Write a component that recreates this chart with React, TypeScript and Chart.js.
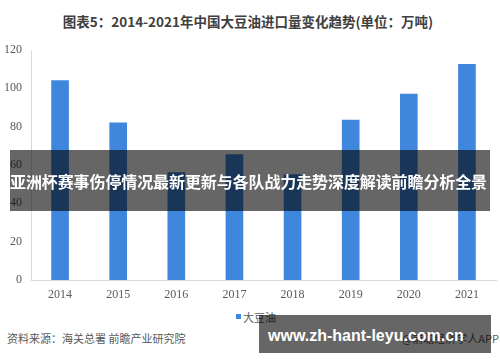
import React, { useEffect, useRef } from "react";
import { Chart, registerables } from "chart.js";

Chart.register(...registerables);

const categories: string[] = ["2014", "2015", "2016", "2017", "2018", "2019", "2020", "2021"];
const soybeanOil: number[] = [104, 82, 56, 65.5, 55, 83.5, 97, 112.5];
const seriesName = "大豆油";
const yTicks: number[] = [0, 20, 40, 60, 80, 100, 120];
const titleText = "图表5：2014-2021年中国大豆油进口量变化趋势(单位：万吨)";
const sourceText = "资料来源：海关总署 前瞻产业研究院";
const brandText = "@前瞻经济学人APP";
const bannerText = "亚洲杯赛事伤停情况最新更新与各队战力走势深度解读前瞻分析全景";
const urlText = "www.zh-hant-leyu.com.cn";

const BAR_COLOR = "#3F86DD";
const LABEL_COLOR = "#595959";

export default function App() {
  const canvasRef = useRef<HTMLCanvasElement | null>(null);

  useEffect(() => {
    if (!canvasRef.current) return;
    const chart = new Chart(canvasRef.current, {
      type: "bar",
      data: {
        labels: categories,
        datasets: [
          {
            label: seriesName,
            data: soybeanOil,
            backgroundColor: BAR_COLOR,
            borderWidth: 0,
            barThickness: 17,
          },
        ],
      },
      options: {
        animation: false,
        responsive: false,
        maintainAspectRatio: false,
        devicePixelRatio: 1,
        layout: { padding: { top: 50, left: 0, right: 4, bottom: 0 } },
        plugins: {
          legend: { display: false },
          tooltip: { enabled: false },
          title: { display: false },
        },
        scales: {
          x: {
            grid: { display: false, drawTicks: false },
            border: { display: true, color: "#D9D9D9", width: 1 },
            ticks: {
              color: LABEL_COLOR,
              font: { family: "'Liberation Serif', serif", size: 12 },
              padding: 8,
              maxRotation: 0,
            },
            afterFit: (scale: any) => {
              scale.height = 20;
            },
          },
          y: {
            min: 0,
            max: 120,
            afterBuildTicks: (scale: any) => {
              scale.ticks = yTicks.map((v) => ({ value: v }));
            },
            grid: { display: false, drawTicks: false },
            border: { display: true, color: "#D9D9D9", width: 1 },
            ticks: {
              color: LABEL_COLOR,
              font: { family: "'Liberation Serif', serif", size: 12 },
              padding: 9,
            },
            afterFit: (scale: any) => {
              scale.width = 31;
            },
          },
        },
      },
    });
    return () => chart.destroy();
  }, []);

  const cjk = "'Noto Sans CJK SC', 'Noto Sans', sans-serif";

  return (
    <div
      style={{
        position: "absolute",
        left: 0,
        top: 0,
        width: 500,
        height: 362,
        background: "#fff",
        overflow: "hidden",
        fontFamily: cjk,
      }}
    >
      <div
        style={{
          position: "absolute",
          left: 0,
          top: 12,
          width: 496,
          textAlign: "center",
          fontSize: 13.5,
          fontWeight: 700,
          color: "#404040",
          lineHeight: "18px",
          whiteSpace: "nowrap",
        }}
      >
        {titleText}
      </div>
      <canvas
        ref={canvasRef}
        width={500}
        height={300}
        style={{ position: "absolute", left: 0, top: 0, width: 500, height: 300 }}
      />
      <div
        style={{
          position: "absolute",
          left: 236,
          top: 314,
          width: 5,
          height: 5,
          background: BAR_COLOR,
        }}
      />
      <div
        style={{
          position: "absolute",
          left: 243,
          top: 309,
          fontSize: 11,
          lineHeight: "16px",
          color: LABEL_COLOR,
          whiteSpace: "nowrap",
        }}
      >
        {seriesName}
      </div>
      <div
        style={{
          position: "absolute",
          left: 7,
          top: 330,
          fontSize: 11,
          lineHeight: "16px",
          color: LABEL_COLOR,
          whiteSpace: "nowrap",
        }}
      >
        {sourceText}
      </div>
      <div
        style={{
          position: "absolute",
          right: 1,
          top: 330,
          fontSize: 11,
          lineHeight: "16px",
          color: LABEL_COLOR,
          whiteSpace: "nowrap",
        }}
      >
        {brandText}
      </div>
      <div
        style={{
          position: "absolute",
          left: 10,
          top: 150,
          width: 480,
          height: 61,
          background: "rgba(0,0,0,0.6)",
        }}
      />
      <div
        style={{
          position: "absolute",
          left: 10,
          top: 170,
          fontSize: 16,
          letterSpacing: "-0.1px",
          fontWeight: 700,
          lineHeight: "22px",
          color: "#fff",
          whiteSpace: "nowrap",
        }}
      >
        {bannerText}
      </div>
      <div
        style={{
          position: "absolute",
          left: 259,
          top: 315,
          width: 232,
          height: 38,
          background: "rgba(0,0,0,0.6)",
        }}
      />
      <div
        style={{
          position: "absolute",
          left: 268,
          top: 325,
          fontFamily: "'Liberation Sans', Arial, sans-serif",
          fontSize: 16,
          fontWeight: 700,
          lineHeight: "22px",
          color: "#fff",
          whiteSpace: "nowrap",
        }}
      >
        {urlText}
      </div>
    </div>
  );
}
